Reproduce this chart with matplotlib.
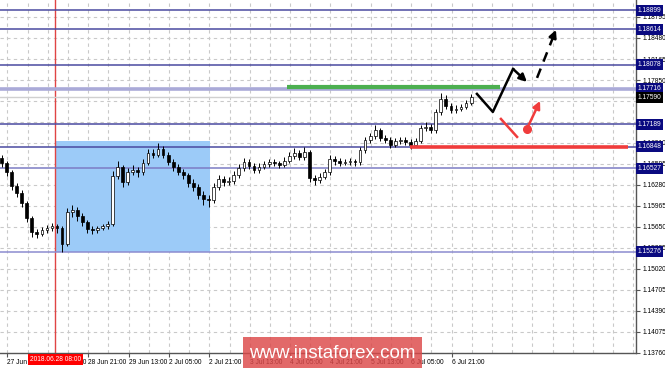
import numpy as np
import matplotlib
matplotlib.use('Agg')
import matplotlib.pyplot as plt
from matplotlib.patches import Rectangle

# EURUSD, 2-hour bars, 27 Jun - 6 Jul 2018
opens = [1.1668, 1.1661, 1.1647, 1.1626, 1.1616, 1.1601, 1.1578, 1.1557, 1.1554, 1.1560,
         1.1563, 1.1566, 1.1563, 1.1540, 1.1587, 1.1590, 1.1581, 1.1572, 1.1562, 1.1560,
         1.1563, 1.1566, 1.1569, 1.1641, 1.1655, 1.1632, 1.1647, 1.1650, 1.1647, 1.1661,
         1.1676, 1.1673, 1.1682, 1.1673, 1.1662, 1.1655, 1.1647, 1.1643, 1.1631, 1.1625,
         1.1613, 1.1607, 1.1605, 1.1625, 1.1637, 1.1632, 1.1634, 1.1643, 1.1653, 1.1662,
         1.1656, 1.1650, 1.1655, 1.1659, 1.1662, 1.1661, 1.1658, 1.1664, 1.1671, 1.1676,
         1.1670, 1.1677, 1.1638, 1.1635, 1.1640, 1.1647, 1.1667, 1.1664, 1.1661, 1.1662,
         1.1664, 1.1662, 1.1680, 1.1695, 1.1701, 1.1710, 1.1698, 1.1695, 1.1688, 1.1694,
         1.1695, 1.1692, 1.1688, 1.1694, 1.1713, 1.1715, 1.1710, 1.1737, 1.1757, 1.1746,
         1.1740, 1.1742, 1.1745, 1.1751]
closes = [1.1661, 1.1647, 1.1626, 1.1616, 1.1601, 1.1578, 1.1557, 1.1554, 1.1560, 1.1563,
          1.1566, 1.1563, 1.1540, 1.1587, 1.1590, 1.1581, 1.1572, 1.1562, 1.1560, 1.1563,
          1.1566, 1.1569, 1.1641, 1.1655, 1.1632, 1.1647, 1.1650, 1.1647, 1.1661, 1.1676,
          1.1673, 1.1682, 1.1673, 1.1662, 1.1655, 1.1647, 1.1643, 1.1631, 1.1625, 1.1613,
          1.1607, 1.1605, 1.1625, 1.1637, 1.1632, 1.1634, 1.1643, 1.1653, 1.1662, 1.1656,
          1.1650, 1.1655, 1.1659, 1.1662, 1.1661, 1.1658, 1.1664, 1.1671, 1.1676, 1.1670,
          1.1677, 1.1638, 1.1635, 1.1640, 1.1647, 1.1667, 1.1664, 1.1661, 1.1662, 1.1664,
          1.1662, 1.1680, 1.1695, 1.1701, 1.1710, 1.1698, 1.1695, 1.1688, 1.1694, 1.1695,
          1.1692, 1.1688, 1.1694, 1.1713, 1.1715, 1.1710, 1.1737, 1.1757, 1.1746, 1.1740,
          1.1742, 1.1745, 1.1751, 1.1760]
highs = [1.1672, 1.1664, 1.1650, 1.1631, 1.1620, 1.1604, 1.1582, 1.1562, 1.1565, 1.1568,
         1.1571, 1.1570, 1.1566, 1.1594, 1.1598, 1.1595, 1.1586, 1.1576, 1.1567, 1.1567,
         1.1570, 1.1574, 1.1648, 1.1663, 1.1658, 1.1653, 1.1657, 1.1655, 1.1666, 1.1682,
         1.1681, 1.1691, 1.1686, 1.1677, 1.1666, 1.1659, 1.1652, 1.1646, 1.1636, 1.1629,
         1.1618, 1.1612, 1.1630, 1.1643, 1.1641, 1.1640, 1.1648, 1.1659, 1.1668, 1.1666,
         1.1660, 1.1660, 1.1664, 1.1667, 1.1666, 1.1664, 1.1669, 1.1677, 1.1683, 1.1680,
         1.1685, 1.1680, 1.1642, 1.1645, 1.1652, 1.1672, 1.1671, 1.1668, 1.1666, 1.1668,
         1.1667, 1.1685, 1.1700, 1.1706, 1.1718, 1.1713, 1.1702, 1.1699, 1.1698, 1.1700,
         1.1699, 1.1696, 1.1698, 1.1718, 1.1722, 1.1719, 1.1742, 1.1766, 1.1762, 1.1750,
         1.1747, 1.1749, 1.1755, 1.1764]
lows = [1.1655, 1.1641, 1.1620, 1.1610, 1.1595, 1.1572, 1.1550, 1.1549, 1.1551, 1.1556,
        1.1559, 1.1556, 1.1528, 1.1536, 1.1580, 1.1574, 1.1566, 1.1556, 1.1555, 1.1556,
        1.1560, 1.1562, 1.1566, 1.1636, 1.1624, 1.1628, 1.1642, 1.1640, 1.1643, 1.1657,
        1.1668, 1.1669, 1.1668, 1.1657, 1.1649, 1.1642, 1.1637, 1.1625, 1.1618, 1.1607,
        1.1598, 1.1595, 1.1601, 1.1620, 1.1626, 1.1627, 1.1629, 1.1638, 1.1648, 1.1651,
        1.1645, 1.1646, 1.1651, 1.1655, 1.1656, 1.1653, 1.1654, 1.1660, 1.1667, 1.1665,
        1.1665, 1.1632, 1.1628, 1.1630, 1.1636, 1.1643, 1.1658, 1.1656, 1.1657, 1.1658,
        1.1656, 1.1658, 1.1676, 1.1690, 1.1696, 1.1693, 1.1690, 1.1683, 1.1684, 1.1689,
        1.1687, 1.1682, 1.1684, 1.1690, 1.1708, 1.1705, 1.1706, 1.1733, 1.1741, 1.1735,
        1.1736, 1.1738, 1.1741, 1.1747]

# price scale
tick_vals = [1.18795, 1.18480, 1.18165, 1.17850, 1.16910, 1.16595, 1.16280, 1.15965,
             1.15650, 1.15335, 1.15020, 1.14705, 1.14390, 1.14075, 1.13760]
tick_labels = ['1.18795', '1.18480', '1.18165', '1.17850', '1.16910', '1.16595', '1.16280',
               '1.15965', '1.15650', '1.15335', '1.15020', '1.14705', '1.14390', '1.14075',
               '1.13760']
levels = [1.18899, 1.18614, 1.18078, 1.17189, 1.16848, 1.16527, 1.15276]
level_labels = ['1.18899', '1.18614', '1.18078', '1.17189', '1.16848', '1.16527', '1.15276']
level_colors = ['#4a4aa0', '#4a4aa0', '#4a4aa0', '#4a4aa0', '#4a4aa0', '#7c7cc4', '#8c8cd0']
key_level = 1.17716
bid = 1.17590

# time scale (hours from chart start)
date_ticks = [2.9, 18.9, 34.9, 50.9, 66.9, 82.9, 98.9, 114.9, 130.9, 146.9, 162.9, 178.9]
date_labels = ['27 Jun 13:00', '28 Jun 05:00', '28 Jun 21:00', '29 Jun 13:00', '2 Jul 05:00',
               '2 Jul 21:00', '3 Jul 13:00', '4 Jul 05:00', '4 Jul 21:00', '5 Jul 13:00',
               '6 Jul 05:00', '6 Jul 21:00']
cursor_time = 21.9

# drawn objects
range_box = (21.9, 83.2, 1.15276, 1.16938)
green_line = (113.7, 198.0, 1.17739)
red_line = (162.4, 248.7, 1.16848)
main_path_t = [188.9, 195.2, 203.2, 208.7]
main_path_p = [1.17642, 1.17372, 1.18016, 1.17822]
dash_path_t = [212.7, 220.2]
dash_path_p = [1.17882, 1.18601]
alt_line_t = [198.4, 204.8]
alt_line_p = [1.17267, 1.16998]
alt_arrow_t = [208.7, 213.9]
alt_arrow_p = [1.17118, 1.17537]

font = 'Liberation Sans'
fig = plt.figure(figsize=(6.65, 3.68), dpi=100)
ax = fig.add_axes([0, 15 / 368, 636 / 665, 353 / 368])
ax.set_xlim(0, 251.9)
ax.set_ylim(1.13760, 1.19049)

# grid
grid_y = np.arange(1.13760, 1.1900, 0.00315)
for g in grid_y:
    ax.axhline(g, color='#c9c9c9', lw=0.8, ls=(0, (3, 3)), zorder=0)
for g in np.arange(date_ticks[0], 252, 8):
    ax.axvline(g, color='#c9c9c9', lw=0.8, ls=(0, (3, 3)), zorder=0)

ax.add_patch(Rectangle((range_box[0], range_box[2]), range_box[1] - range_box[0],
                       range_box[3] - range_box[2], fc='#9ccbf8', ec='none', zorder=1))
ax.axvline(cursor_time, color='#e04444', lw=1, zorder=1.5)

for lv, c in zip(levels, level_colors):
    ax.axhline(lv, color=c, lw=1.1, zorder=2)
ax.axhline(key_level, color='#aaaad8', lw=2.6, zorder=2)
ax.axhline(bid, color='#d0d0d0', lw=1, zorder=2)

# candles
x = np.arange(len(closes)) * 2 + 0.6
o = np.array(opens)
c = np.array(closes)
ax.vlines(x, lows, highs, color='black', lw=0.7, zorder=3)
up = c >= o
body_lo = np.minimum(o, c)
body_h = np.maximum(np.abs(c - o), 0.00004)
ax.bar(x[up], body_h[up], bottom=body_lo[up], width=1.1, color='white',
       edgecolor='black', lw=0.5, zorder=4)
ax.bar(x[~up], body_h[~up], bottom=body_lo[~up], width=1.1, color='black',
       edgecolor='black', lw=0.5, zorder=4)

# annotations
ax.plot(green_line[:2], [green_line[2]] * 2, color='#4caf50', lw=3, zorder=5,
        solid_capstyle='butt')
ax.plot(red_line[:2], [red_line[2]] * 2, color='#f03c3c', lw=2.6, zorder=5,
        solid_capstyle='butt')
ax.plot(main_path_t[:-1], main_path_p[:-1], color='black', lw=1.8, zorder=6)
ax.annotate('', xy=(main_path_t[-1], main_path_p[-1]), xytext=(main_path_t[-2], main_path_p[-2]),
            arrowprops=dict(arrowstyle='-|>', color='black', lw=1.8, mutation_scale=11,
                            shrinkA=0, shrinkB=0), zorder=6)
ax.plot(dash_path_t, dash_path_p, color='black', lw=1.8, ls=(0, (4, 3)), zorder=6)
ax.annotate('', xy=(dash_path_t[1], dash_path_p[1]),
            xytext=(dash_path_t[1] - 1.2, dash_path_p[1] - 0.0011),
            arrowprops=dict(arrowstyle='-|>', color='black', lw=1.8, mutation_scale=11,
                            shrinkA=0, shrinkB=0), zorder=6)
ax.plot(alt_line_t, alt_line_p, color='#f03c3c', lw=1.8, zorder=6)
ax.plot(alt_arrow_t[0], alt_arrow_p[0], 'o', color='#f03c3c', ms=5.5, zorder=6)
ax.annotate('', xy=(alt_arrow_t[1], alt_arrow_p[1]), xytext=(alt_arrow_t[0], alt_arrow_p[0]),
            arrowprops=dict(arrowstyle='-|>', color='#f03c3c', lw=1.8, mutation_scale=11,
                            shrinkA=0, shrinkB=0), zorder=6)

# axes
for s in ['left', 'top']:
    ax.spines[s].set_visible(False)
for s in ['right', 'bottom']:
    ax.spines[s].set_color('#555555')
    ax.spines[s].set_linewidth(1)
ax.yaxis.tick_right()
ax.set_yticks(tick_vals)
ax.set_yticklabels(tick_labels, fontsize=4.8, family=font)
ax.tick_params(axis='y', length=3, pad=1.5, color='#555555')
ax.set_xticks(date_ticks)
ax.set_xticklabels(date_labels, fontsize=4.8, family=font, ha='left')
ax.tick_params(axis='x', length=3, pad=1, color='#555555')

for lv, lab in zip(levels + [key_level], level_labels + ['1.17716']):
    ax.text(1.0025, lv, lab, transform=ax.get_yaxis_transform(), ha='left', va='center',
            fontsize=4.8, family=font, color='white', clip_on=False, zorder=7,
            bbox=dict(boxstyle='square,pad=0.3', fc='#0a0a80', ec='none'))
ax.text(1.0025, bid, '1.17590', transform=ax.get_yaxis_transform(), ha='left', va='center',
        fontsize=4.8, family=font, color='white', clip_on=False, zorder=7,
        bbox=dict(boxstyle='square,pad=0.3', fc='black', ec='none'))
ax.text(cursor_time, -0.017, '2018.06.28 08:00', transform=ax.get_xaxis_transform(),
        ha='center', va='center', fontsize=4.8, family=font, color='white', clip_on=False,
        zorder=7, bbox=dict(boxstyle='square,pad=0.3', fc='#ff0000', ec='none'))

# watermark
fig.patches.append(Rectangle((243 / 665, 0), 179 / 665, 31 / 368, transform=fig.transFigure,
                             fc='#dc4848', alpha=0.82, ec='none', zorder=5))
fig.text(332.5 / 665, 15 / 368, 'www.instaforex.com', ha='center', va='center',
         fontsize=13.5, family=font, color='white', zorder=6)

fig.savefig('out.png', dpi=100)
